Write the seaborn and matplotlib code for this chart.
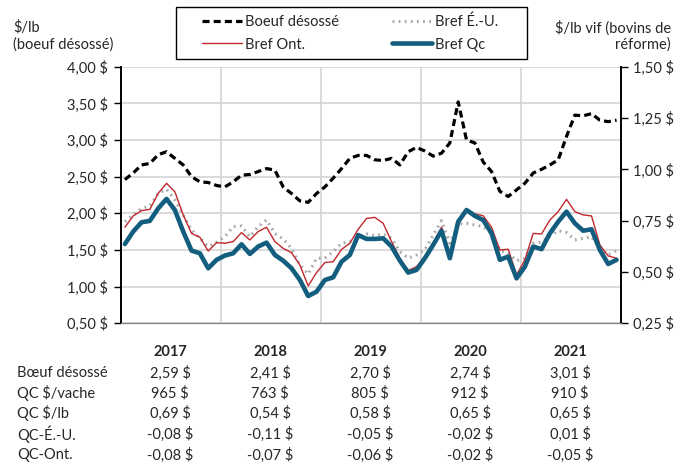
import numpy as np
import pandas as pd
import matplotlib
matplotlib.use("Agg")
import matplotlib.pyplot as plt
from matplotlib.patches import Rectangle
import seaborn as sns

# monthly values 2017-2021
years = [2017, 2018, 2019, 2020, 2021]

boeuf_desosse = [2.46, 2.55, 2.66, 2.68, 2.80, 2.84, 2.75, 2.66, 2.50, 2.43, 2.42, 2.38,
                 2.36, 2.43, 2.52, 2.53, 2.57, 2.61, 2.59, 2.36, 2.27, 2.17, 2.15, 2.27,
                 2.36, 2.48, 2.61, 2.75, 2.79, 2.79, 2.73, 2.72, 2.75, 2.66, 2.84, 2.90,
                 2.85, 2.78, 2.82, 2.96, 3.52, 3.00, 2.96, 2.70, 2.57, 2.30, 2.23, 2.32,
                 2.41, 2.55, 2.60, 2.66, 2.73, 3.05, 3.34, 3.33, 3.36, 3.27, 3.25, 3.27]

bref_eu = [0.745, 0.778, 0.810, 0.821, 0.883, 0.903, 0.851, 0.778, 0.705, 0.664, 0.624, 0.645,
           0.672, 0.721, 0.724, 0.672, 0.721, 0.753, 0.688, 0.661, 0.615, 0.534, 0.490, 0.567,
           0.567, 0.599, 0.640, 0.648, 0.672, 0.685, 0.677, 0.685, 0.664, 0.599, 0.567, 0.583,
           0.607, 0.680, 0.750, 0.640, 0.734, 0.737, 0.729, 0.721, 0.688, 0.607, 0.591, 0.555,
           0.567, 0.640, 0.646, 0.675, 0.701, 0.692, 0.656, 0.664, 0.672, 0.615, 0.583, 0.604]

bref_ont = [0.718, 0.773, 0.799, 0.805, 0.883, 0.932, 0.891, 0.778, 0.688, 0.669, 0.602, 0.643,
            0.640, 0.648, 0.692, 0.656, 0.697, 0.718, 0.648, 0.615, 0.594, 0.534, 0.432, 0.497,
            0.546, 0.550, 0.610, 0.640, 0.708, 0.761, 0.766, 0.737, 0.648, 0.567, 0.507, 0.526,
            0.575, 0.640, 0.718, 0.591, 0.750, 0.807, 0.783, 0.774, 0.718, 0.607, 0.611, 0.486,
            0.559, 0.688, 0.685, 0.753, 0.794, 0.854, 0.794, 0.778, 0.773, 0.632, 0.578, 0.567]

bref_qc = [0.636, 0.697, 0.742, 0.749, 0.810, 0.856, 0.802, 0.697, 0.604, 0.591, 0.518, 0.559,
           0.580, 0.591, 0.635, 0.588, 0.624, 0.643, 0.583, 0.555, 0.518, 0.461, 0.383, 0.404,
           0.461, 0.474, 0.550, 0.583, 0.680, 0.661, 0.661, 0.664, 0.624, 0.555, 0.497, 0.510,
           0.567, 0.632, 0.701, 0.567, 0.745, 0.802, 0.773, 0.753, 0.688, 0.559, 0.575, 0.469,
           0.526, 0.624, 0.611, 0.688, 0.745, 0.794, 0.737, 0.701, 0.708, 0.607, 0.539, 0.559]

# summary table under the chart
row_labels = ["Bœuf désossé", "QC $/vache", "QC $/lb", "QC-É.-U.", "QC-Ont."]
row_values = [
    ["2,59 $", "2,41 $", "2,70 $", "2,74 $", "3,01 $"],
    ["965 $", "763 $", "805 $", "912 $", "910 $"],
    ["0,69 $", "0,54 $", "0,58 $", "0,65 $", "0,65 $"],
    ["-0,08 $", "-0,11 $", "-0,05 $", "-0,02 $", "0,01 $"],
    ["-0,08 $", "-0,07 $", "-0,06 $", "-0,02 $", "-0,05 $"],
]

left_ticks = [0.5, 1.0, 1.5, 2.0, 2.5, 3.0, 3.5, 4.0]
right_ticks = [0.25, 0.50, 0.75, 1.00, 1.25, 1.50]

sns.set_style("white")
plt.rcParams["font.family"] = ["Lato", "DejaVu Sans"]
plt.rcParams["font.size"] = 10.5

W, H = 687, 468
t = 2017 + (np.arange(len(boeuf_desosse)) + 0.5) / 12
df = pd.DataFrame({"t": t, "boeuf": boeuf_desosse, "eu": bref_eu,
                   "ont": bref_ont, "qc": bref_qc})

fig = plt.figure(figsize=(6.87, 4.68), dpi=100)
ax = fig.add_axes([120.7 / W, 1 - 323.3 / H, 500 / W, 256.6 / H])
ax2 = ax.twinx()

sns.lineplot(data=df, x="t", y="boeuf", ax=ax, color="black", lw=2.3,
             linestyle=(0, (2.2, 1.3)), label="Boeuf désossé", legend=False)
sns.lineplot(data=df, x="t", y="eu", ax=ax2, color="#a9a9a9", lw=2.2,
             linestyle=(0, (0.6, 1.4)), label="Bref É.-U.", legend=False)
sns.lineplot(data=df, x="t", y="ont", ax=ax2, color="#c1272d", lw=1.0,
             label="Bref Ont.", legend=False)
sns.lineplot(data=df, x="t", y="qc", ax=ax2, color="#135e7e", lw=3.3,
             label="Bref Qc", legend=False)

fmt = lambda v: f"{v:.2f} $".replace(".", ",")

ax.set_xlim(2017, 2022)
ax.set_xticks(years + [2022])
ax.set_xticklabels([])
ax.set_ylim(0.5, 4.0)
ax.set_yticks(left_ticks)
ax.set_yticklabels([fmt(v) for v in left_ticks])
ax.grid(True, color="#d4d4d4", lw=1.2)
ax.tick_params(axis="x", length=0)
ax.tick_params(axis="y", length=5, width=1, color="black", direction="out",
               left=True, pad=4)
ax.set_xlabel("")
ax.set_ylabel("")

ax2.set_ylim(0.25, 1.5)
ax2.set_yticks(right_ticks)
ax2.set_yticklabels([fmt(v) for v in right_ticks])
ax2.tick_params(axis="y", length=5, width=1, color="black", direction="out",
                right=True, pad=4)
ax2.set_ylabel("")
ax2.grid(False)

for a in (ax, ax2):
    a.spines["top"].set_visible(False)
    a.spines["left"].set_color("black")
    a.spines["right"].set_color("black")
    a.spines["bottom"].set_color("#808080")
    a.spines["left"].set_linewidth(1.2)
    a.spines["right"].set_linewidth(1.2)

# axis titles
fig.text(13 / W, 1 - 27 / H, "$/lb", ha="left", va="center")
fig.text(13 / W, 1 - 45 / H, "(boeuf désossé)", ha="left", va="center")
fig.text(671 / W, 1 - 28 / H, "$/lb vif (bovins de", ha="right", va="center")
fig.text(671 / W, 1 - 45 / H, "réforme)", ha="right", va="center")

# legend, frame drawn separately
h1, l1 = ax.get_legend_handles_labels()
h2, l2 = ax2.get_legend_handles_labels()
handles = [h1[0], h2[1], h2[0], h2[2]]
labels = [l1[0], l2[1], l2[0], l2[2]]
leg = fig.legend(handles, labels, ncol=2, loc="upper left",
                 bbox_to_anchor=(202 / W, 1 - 15 / H), frameon=False,
                 borderaxespad=0, borderpad=0, handlelength=2.75,
                 handletextpad=0.2, columnspacing=3.6, labelspacing=0.55)
fig.add_artist(Rectangle((176 / W, 1 - 59 / H), 351 / W, 52 / H,
                         transform=fig.transFigure, fill=False,
                         edgecolor="black", lw=1.0))

# table
col_x = [170, 270, 370, 470, 570]
for j, y in enumerate(years):
    fig.text(col_x[j] / W, 1 - 352 / H, str(y), ha="center", va="center",
             fontweight="bold")
row_y = [373, 393, 413, 434, 455]
for i, lab in enumerate(row_labels):
    fig.text(17 / W, 1 - row_y[i] / H, lab, ha="left", va="center")
    for j in range(len(years)):
        fig.text(col_x[j] / W, 1 - row_y[i] / H, row_values[i][j],
                 ha="center", va="center")

fig.savefig("out.png", dpi=100)
